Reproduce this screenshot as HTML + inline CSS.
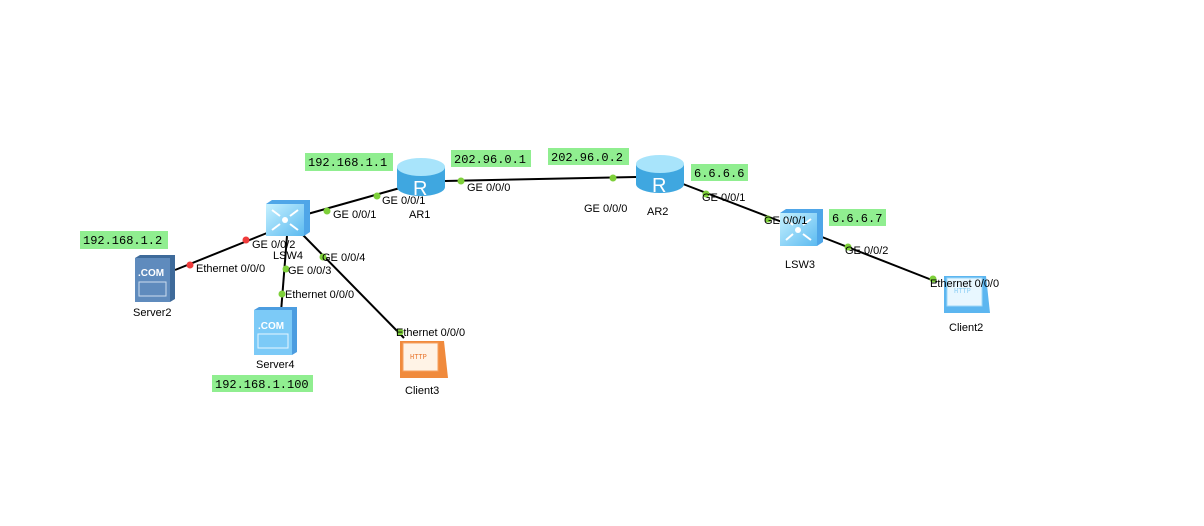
<!DOCTYPE html>
<html><head><meta charset="utf-8"><style>
html,body{margin:0;padding:0;background:#fff;}
svg{display:block;font-family:"Liberation Sans",Arial,sans-serif;}
.t{font-size:11px;fill:#000;}
.ip{font-family:"Liberation Mono",monospace;font-size:12px;fill:#000;}
</style></head><body>
<svg width="1204" height="526" viewBox="0 0 1204 526">
<defs>
<linearGradient id="sw" x1="0" y1="0" x2="1" y2="1"><stop offset="0" stop-color="#c6f1ff"/><stop offset="1" stop-color="#5cbaf0"/></linearGradient>
</defs>
<g stroke="#000" stroke-width="2" fill="none">
<line x1="304" y1="215" x2="400" y2="188"/>
<line x1="445" y1="181" x2="636" y2="177"/>
<line x1="683" y1="184" x2="782" y2="222"/>
<line x1="822" y1="237" x2="937" y2="282"/>
<line x1="267" y1="233" x2="175" y2="270"/>
<line x1="287" y1="236" x2="281" y2="312"/>
<line x1="303" y1="235" x2="404" y2="338"/>
</g>
<g>
<rect x="305" y="153" width="88" height="18" fill="#90ee90"/><text class="ip" x="308" y="166">192.168.1.1</text>
<rect x="451" y="150" width="80" height="17" fill="#90ee90"/><text class="ip" x="454" y="163">202.96.0.1</text>
<rect x="548" y="148" width="81" height="17" fill="#90ee90"/><text class="ip" x="551" y="161">202.96.0.2</text>
<rect x="691" y="164" width="57" height="17" fill="#90ee90"/><text class="ip" x="694" y="177">6.6.6.6</text>
<rect x="829" y="209" width="57" height="17" fill="#90ee90"/><text class="ip" x="832" y="222">6.6.6.7</text>
<rect x="80" y="231" width="88" height="18" fill="#90ee90"/><text class="ip" x="83" y="244">192.168.1.2</text>
<rect x="212" y="375" width="101" height="17" fill="#90ee90"/><text class="ip" x="215" y="388">192.168.1.100</text>
</g>
<g>
<path d="M397 167 v20 a24 9 0 0 0 48 0 v-20z" fill="#3fa7e0"/>
<ellipse cx="421" cy="167" rx="24" ry="9" fill="#a8e4fb"/>
<text x="413" y="195" font-size="20" fill="#fff">R</text>
<path d="M636 164 v20 a24 9 0 0 0 48 0 v-20z" fill="#3fa7e0"/>
<ellipse cx="660" cy="164" rx="24" ry="9" fill="#a8e4fb"/>
<text x="652" y="192" font-size="20" fill="#fff">R</text>
</g>
<g>
<path d="M266 204 l6 -4 h38 v32 l-6 4 h-38z" fill="#4fa6e8"/>
<rect x="266" y="204" width="38" height="32" fill="url(#sw)"/>
<circle cx="285" cy="220" r="3" fill="#fff"/>
<g stroke="#fff" stroke-width="2"><line x1="272" y1="210" x2="280" y2="216"/><line x1="298" y1="210" x2="290" y2="216"/><line x1="272" y1="230" x2="280" y2="224"/><line x1="298" y1="230" x2="290" y2="224"/></g>
<path d="M780 213 l6 -4 h37 v33 l-6 4 h-37z" fill="#4fa6e8"/>
<rect x="780" y="213" width="37" height="33" fill="url(#sw)"/>
<circle cx="798" cy="230" r="3" fill="#fff"/>
<g stroke="#fff" stroke-width="2"><line x1="786" y1="219" x2="793" y2="225"/><line x1="811" y1="219" x2="803" y2="225"/><line x1="786" y1="240" x2="793" y2="234"/><line x1="811" y1="240" x2="803" y2="234"/></g>
</g>
<g>
<path d="M135 258 l5 -3 h35 v44 l-5 3 h-35z" fill="#3e6a9a"/>
<rect x="135" y="258" width="35" height="44" fill="#5f8bbd"/>
<text x="138" y="276" font-size="10" font-weight="bold" fill="#fff">.COM</text>
<rect x="139" y="282" width="27" height="14" fill="none" stroke="#cde" stroke-width="1"/>
<path d="M254 310 l5 -3 h38 v45 l-5 3 h-38z" fill="#4c9de0"/>
<rect x="254" y="310" width="38" height="45" fill="#7ccaf7"/>
<text x="258" y="329" font-size="10" font-weight="bold" fill="#fff">.COM</text>
<rect x="258" y="334" width="30" height="14" fill="none" stroke="#e6f6ff" stroke-width="1"/>
</g>
<g>
<path d="M400 341 h44 l4 37 h-48z" fill="#f08a3c"/>
<rect x="403" y="343" width="35" height="28" fill="#fff3e6" stroke="#f6a060"/>
<text x="410" y="359" font-size="7" fill="#e8732a" font-family="Liberation Mono,monospace">HTTP</text>
<path d="M944 276 h42 l4 37 h-46z" fill="#5cb6f0"/>
<rect x="947" y="278" width="35" height="28" fill="#e8f7ff" stroke="#9fd8f8"/>
<text x="954" y="293" font-size="7" fill="#8ccff5" font-family="Liberation Mono,monospace">HTTP</text>
</g>
<g fill="#7ed03a">
<circle cx="327" cy="211" r="3.5"/><circle cx="377" cy="196" r="3.5"/>
<circle cx="461" cy="181" r="3.5"/><circle cx="613" cy="178" r="3.5"/>
<circle cx="706" cy="194" r="3.5"/><circle cx="768" cy="219" r="3.5"/>
<circle cx="848" cy="247" r="3.5"/><circle cx="933" cy="279" r="3.5"/>
<circle cx="286" cy="269" r="3.5"/><circle cx="282" cy="294" r="3.5"/>
<circle cx="323" cy="257" r="3.5"/><circle cx="400" cy="332" r="3.5"/>
</g>
<g fill="#f03c3c"><circle cx="246" cy="240" r="3.5"/><circle cx="190" cy="265" r="3.5"/></g>
<g>
<text class="t" x="333" y="218">GE 0/0/1</text>
<text class="t" x="382" y="204">GE 0/0/1</text>
<text class="t" x="467" y="191">GE 0/0/0</text>
<text class="t" x="584" y="212">GE 0/0/0</text>
<text class="t" x="409" y="218">AR1</text>
<text class="t" x="647" y="215">AR2</text>
<text class="t" x="702" y="201">GE 0/0/1</text>
<text class="t" x="764" y="224">GE 0/0/1</text>
<text class="t" x="785" y="268">LSW3</text>
<text class="t" x="845" y="254">GE 0/0/2</text>
<text class="t" x="930" y="287">Ethernet 0/0/0</text>
<text class="t" x="949" y="331">Client2</text>
<text class="t" x="252" y="248">GE 0/0/2</text>
<text class="t" x="273" y="259">LSW4</text>
<text class="t" x="196" y="272">Ethernet 0/0/0</text>
<text class="t" x="288" y="274">GE 0/0/3</text>
<text class="t" x="322" y="261">GE 0/0/4</text>
<text class="t" x="285" y="298">Ethernet 0/0/0</text>
<text class="t" x="396" y="336">Ethernet 0/0/0</text>
<text class="t" x="133" y="316">Server2</text>
<text class="t" x="256" y="368">Server4</text>
<text class="t" x="405" y="394">Client3</text>
</g>
</svg>
</body></html>
